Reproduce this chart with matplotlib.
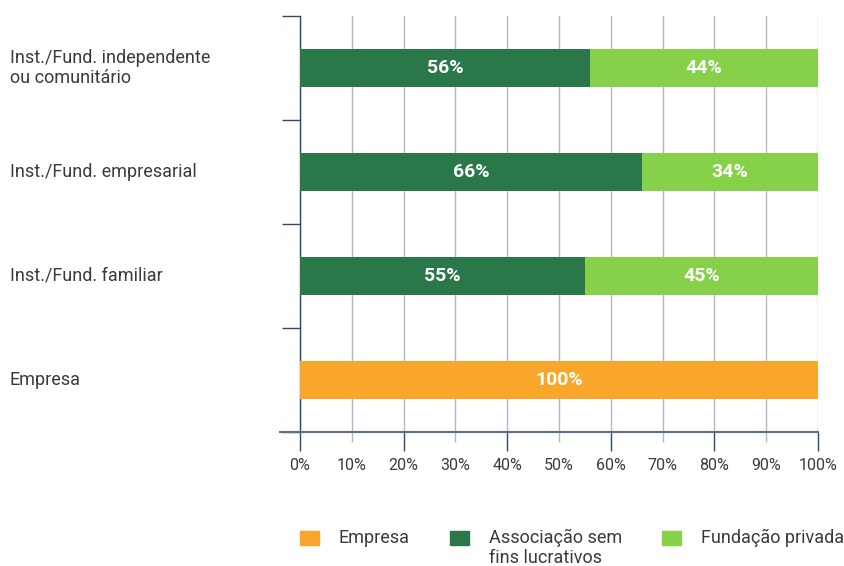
import matplotlib
matplotlib.use('Agg')
import matplotlib.pyplot as plt
from matplotlib.patches import Rectangle
from matplotlib.transforms import blended_transform_factory
from matplotlib.ticker import FuncFormatter, MultipleLocator

# dados
categorias = ["Inst./Fund. independente\nou comunitário", "Inst./Fund. empresarial",
              "Inst./Fund. familiar", "Empresa"]
series = ["Empresa", "Associação sem\nfins lucrativos", "Fundação privada"]
empresa = [0, 0, 0, 100]
associacao = [56, 66, 55, 0]
fundacao = [44, 34, 45, 0]
cores = ["#F9A72B", "#2A7849", "#86D04A"]

plt.rcParams['font.family'] = ['Roboto', 'DejaVu Sans']
W, H = 845, 566
fig = plt.figure(figsize=(W / 100, H / 100), dpi=100)
ax = fig.add_axes([300 / W, (H - 432) / H, 518 / W, 416 / H])

azul = "#2E4A6E"
cinza = "#B3B6C6"
texto = "#3A3A3A"

ypos = list(range(len(categorias)))
esquerda = [0] * len(categorias)
for valores, cor in zip([empresa, associacao, fundacao], cores):
    ax.barh(ypos, valores, left=esquerda, height=0.37, color=cor, zorder=3)
    for y, v, l in zip(ypos, valores, esquerda):
        if v > 0:
            ax.text(l + v / 2, y, f"{v}%", ha='center', va='center', color='white',
                    fontsize=14, fontweight='bold', zorder=4)
    esquerda = [a + b for a, b in zip(esquerda, valores)]

ax.set_xlim(0, 100)
ax.set_ylim(3.5, -0.5)

# grade vertical
ax.xaxis.set_major_locator(MultipleLocator(20))
ax.xaxis.set_minor_locator(MultipleLocator(10))
ax.grid(axis='x', which='both', color=cinza, linewidth=1, zorder=0)
ax.xaxis.set_major_formatter(FuncFormatter(lambda v, p: f"{v:.0f}%"))
ax.xaxis.set_minor_formatter(FuncFormatter(lambda v, p: f"{v:.0f}%"))
ax.tick_params(axis='x', which='major', length=14, width=1, color=azul,
               labelsize=11.5, labelcolor=texto, pad=5)
ax.tick_params(axis='x', which='minor', length=7, width=1, color=cinza,
               labelsize=11.5, labelcolor=texto, pad=12)

# eixo y: marcas entre categorias
ax.set_yticks([])
ax.set_yticks([-0.5, 0.5, 1.5, 2.5, 3.5], minor=True)
ax.tick_params(axis='y', which='minor', length=13, width=1, color=azul)
trans = blended_transform_factory(fig.transFigure, ax.transData)
for y, cat in zip(ypos, categorias):
    ax.text(10 / W, y, cat, transform=trans, ha='left', va='center',
            fontsize=13, color=texto, linespacing=1.2)

for s in ['top', 'right', 'bottom']:
    ax.spines[s].set_visible(False)
ax.spines['left'].set_color(azul)
ax.spines['left'].set_linewidth(1)
ax.plot([-20 / 518, 1], [0, 0], transform=ax.transAxes, color="#5A6F8C",
        linewidth=1.5, clip_on=False, zorder=5)

# legenda
leg_x = [300, 450, 662]
for x, nome, cor in zip(leg_x, series, cores):
    fig.patches.append(Rectangle((x / W, (H - 545) / H), 19 / W, 14 / H,
                                 transform=fig.transFigure, color=cor))
    fig.text((x + 39) / W, (H - 529) / H, nome, ha='left', va='top',
             fontsize=13, color=texto, linespacing=1.12)

fig.savefig('out.png', dpi=100)
